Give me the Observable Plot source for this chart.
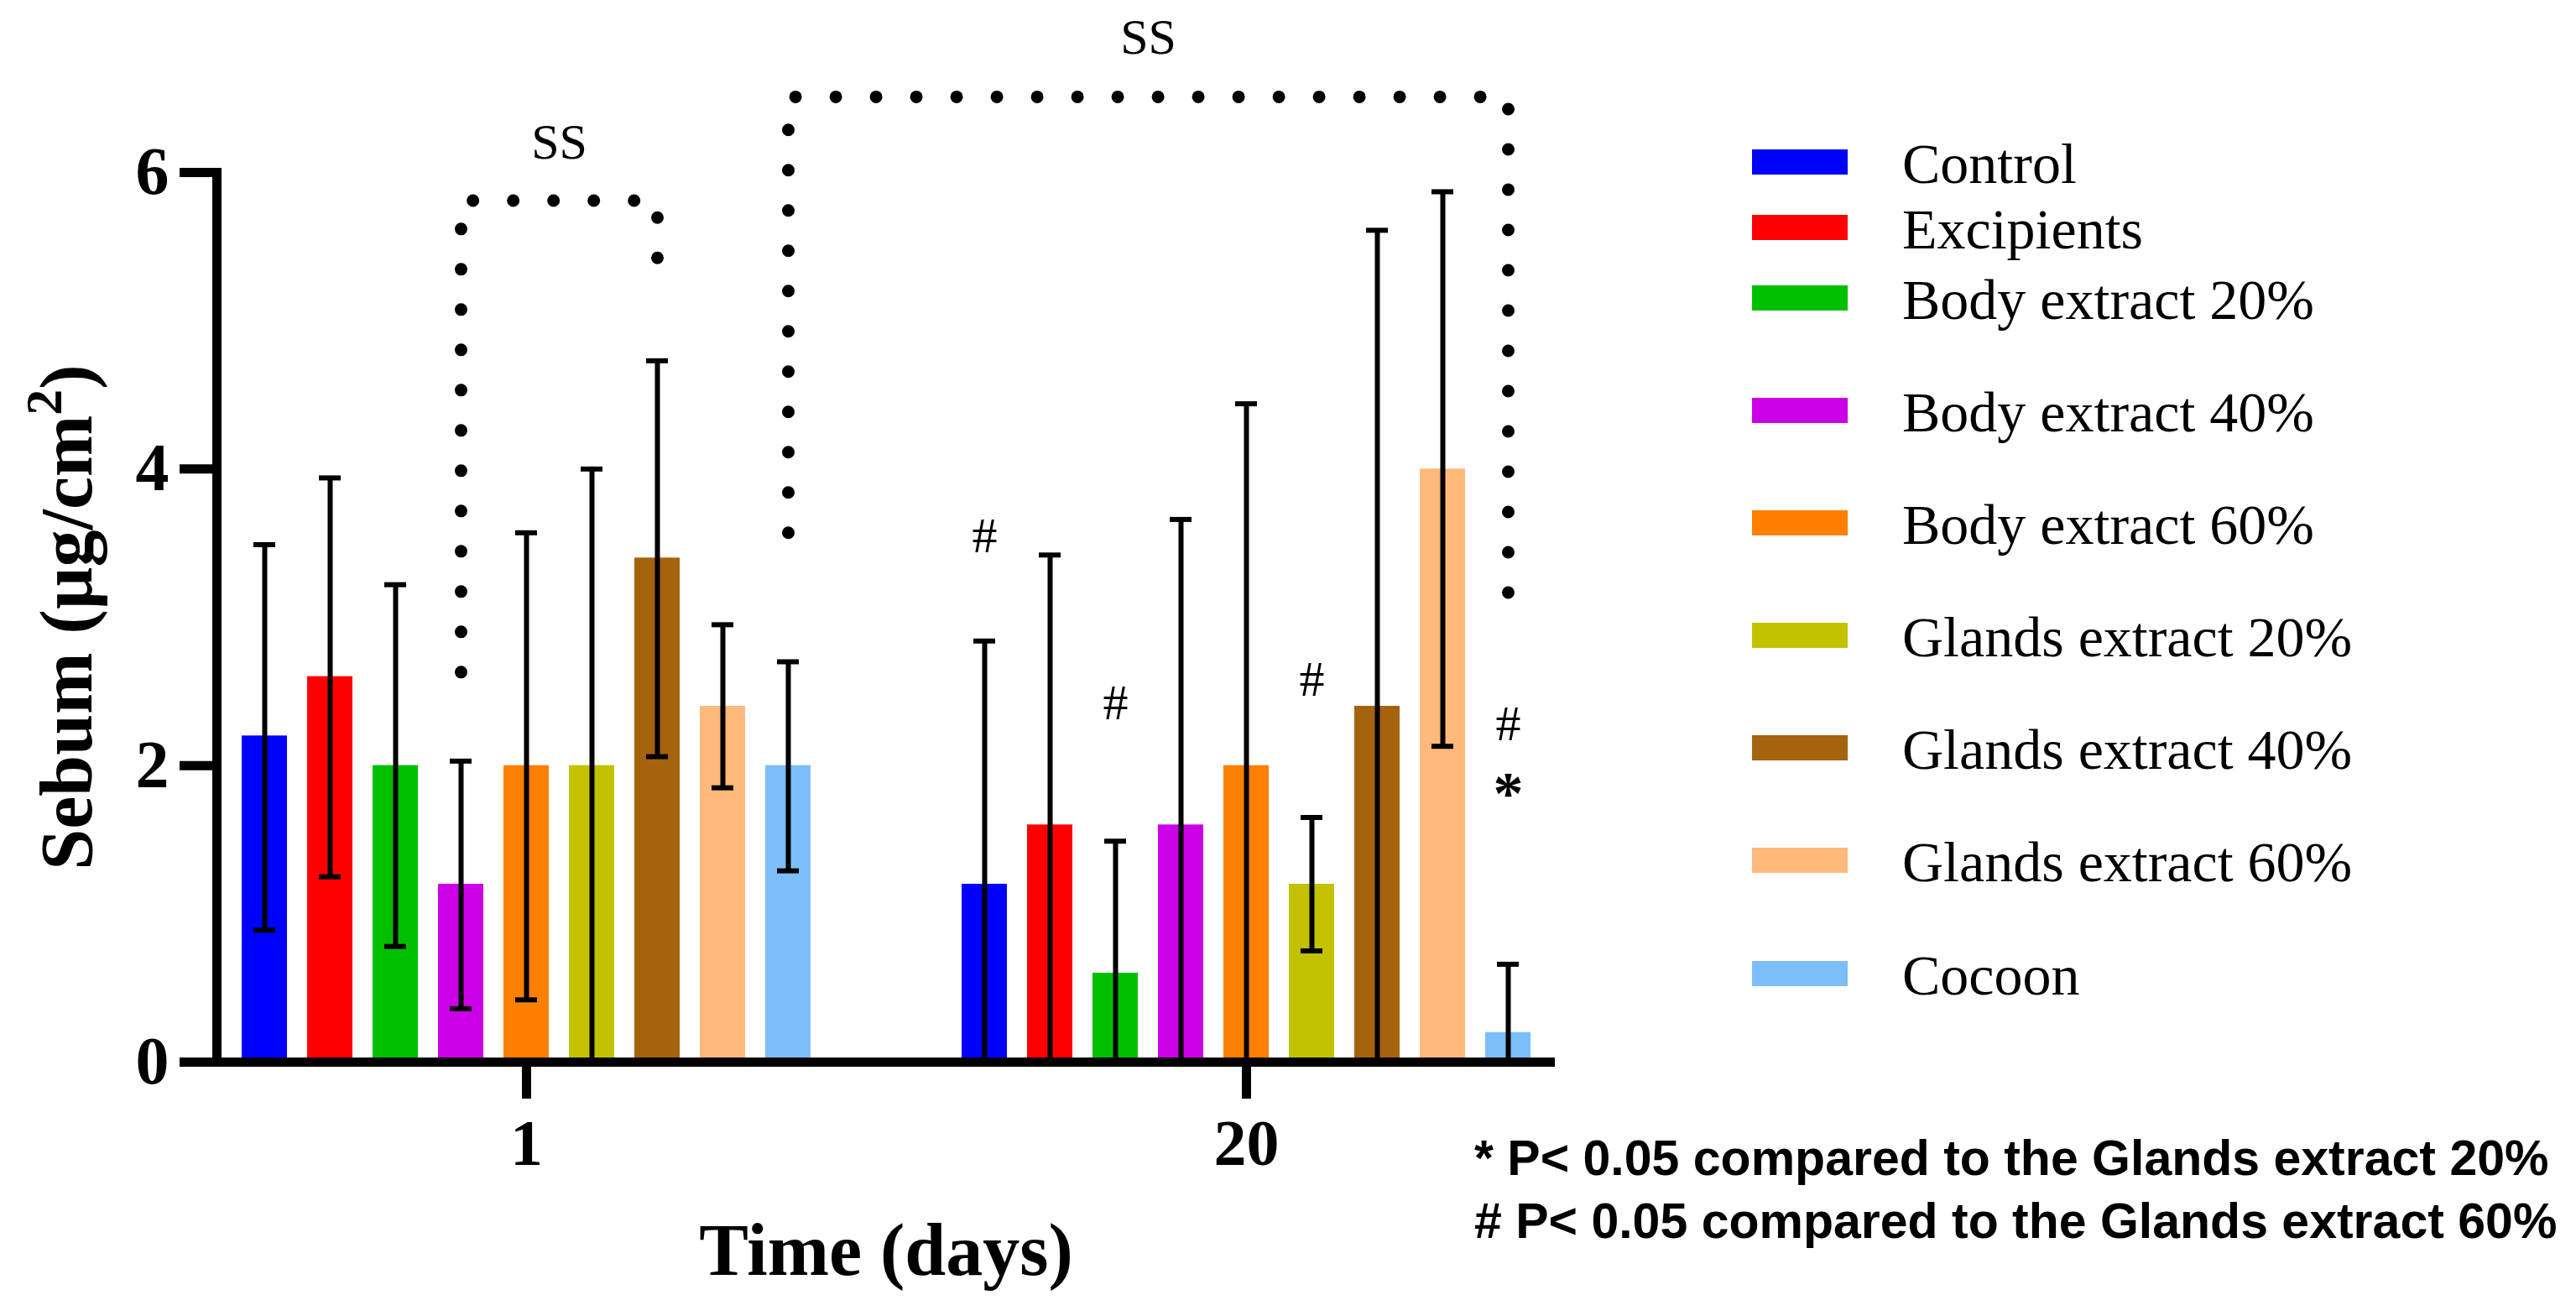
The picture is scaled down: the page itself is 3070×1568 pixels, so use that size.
<!DOCTYPE html>
<html>
<head>
<meta charset="utf-8">
<script src="https://cdn.jsdelivr.net/npm/d3@7"></script>
<script src="https://cdn.jsdelivr.net/npm/@observablehq/plot@0.6"></script>
<style>
  html, body { margin: 0; padding: 0; background: #fff; }
  #wrap { position: relative; width: 3070px; height: 1568px; overflow: hidden; background: #fff; }
  #wrap > svg { position: absolute; left: 0; top: 0; }
  .sw { position: absolute; width: 114px; height: 30px; }
  .lab { position: absolute; font-family: "Liberation Serif", "Times New Roman", serif; font-size: 68px; line-height: 68px; white-space: nowrap; color: #000; }
  #notes { position: absolute; left: 1757px; top: 1343px; font-family: "Liberation Sans", Arial, sans-serif; font-weight: bold; font-size: 59px; line-height: 75px; white-space: nowrap; color: #000; }
</style>
</head>
<body>
<div id="wrap"></div>
<script>
// ---------- data ----------
const times = ["1", "20"];
const series = ["Control", "Excipients", "Body extract 20%", "Body extract 40%", "Body extract 60%",
                "Glands extract 20%", "Glands extract 40%", "Glands extract 60%", "Cocoon"];
const seriesColors = ["#0000FF", "#FF0000", "#00C000", "#CC00E6", "#FF8000",
                      "#C2C200", "#A5620F", "#FFB97A", "#7BBFFA"];
// day 1
const mean1 = [2.2, 2.6, 2.0, 1.2, 2.0, 2.0, 3.4, 2.4, 2.0];
const low1  = [0.89, 1.25, 0.78, 0.36, 0.42, 0.0, 2.06, 1.85, 1.29];
const high1 = [3.49, 3.94, 3.22, 2.03, 3.57, 4.0, 4.73, 2.95, 2.70];
// day 20
const mean20 = [1.2, 1.6, 0.6, 1.6, 2.0, 1.2, 2.4, 4.0, 0.2];
const low20  = [0, 0, 0, 0, 0, 0.75, 0, 2.13, 0];
const high20 = [2.84, 3.42, 1.49, 3.66, 4.44, 1.65, 5.61, 5.87, 0.66];
const yTicks = [0, 2, 4, 6];
const yTitle = "Sebum (µg/cm²)";
const xTitle = "Time (days)";
// significance marks
const hashMarks = [
  {time: "20", series: "Control", value: 3.55},
  {time: "20", series: "Body extract 20%", value: 2.42},
  {time: "20", series: "Glands extract 20%", value: 2.58},
  {time: "20", series: "Cocoon", value: 2.28}
];
const starMarks = [{time: "20", series: "Cocoon", value: 1.81}];
const brackets = [
  {label: "SS", labelAt: ["1", "Body extract 60%"], labelValue: 6.20,
   points: [["1", "Body extract 40%", 2.63], ["1", "Body extract 40%", 5.81],
            ["1", "Glands extract 40%", 5.81], ["1", "Glands extract 40%", 5.18]]},
  {label: "SS", labelAt: ["20", "Body extract 20%"], labelValue: 6.91,
   points: [["1", "Cocoon", 3.57], ["1", "Cocoon", 6.51],
            ["20", "Cocoon", 6.51], ["20", "Cocoon", 3.05]]}
];
const footnotes = ["* P< 0.05 compared to the Glands extract 20%",
                   "# P< 0.05 compared to the Glands extract 60%"];

// ---------- layout ----------
const W = 3070, H = 1568;
const mL = 258, mR = 1217, mT = 205, mB = 303;
const pInner = 0.308, pOuter = 0.37;
const legendCenters = [193, 271, 355, 489, 623, 757, 891, 1025, 1160];

const key = (t, s) => t + "|" + s;
const xDomain = [...series.map(s => key(times[0], s)), "gap-a", "gap-b", ...series.map(s => key(times[1], s))];
const step = (W - mL - mR) / (xDomain.length - pInner + 2 * pOuter);

const rows = [];
series.forEach((s, i) => rows.push({key: key("1", s), series: s, mean: mean1[i], low: low1[i], high: high1[i]}));
series.forEach((s, i) => rows.push({key: key("20", s), series: s, mean: mean20[i], low: low20[i], high: high20[i]}));

const serif = "Liberation Serif, Times New Roman, serif";

const marks = [
  Plot.barY(rows, {x: "key", y: "mean", fill: "series"}),
  Plot.ruleX(rows, {x: "key", y1: "low", y2: "high", stroke: "#000", strokeWidth: 6}),
  Plot.tickY(rows, {x: "key", y: "high", stroke: "#000", strokeWidth: 6, insetLeft: 14, insetRight: 14}),
  Plot.tickY(rows.filter(d => d.low > 0), {x: "key", y: "low", stroke: "#000", strokeWidth: 6, insetLeft: 14, insetRight: 14})
];
for (const b of brackets) {
  marks.push(Plot.line(b.points, {x: p => key(p[0], p[1]), y: p => p[2], stroke: "#000", strokeWidth: 15,
    strokeDasharray: "0 48", strokeLinecap: "round", strokeLinejoin: "round"}));
  marks.push(Plot.text([b], {x: d => key(d.labelAt[0], d.labelAt[1]), y: "labelValue", text: "label",
    dx: step / 2, fontSize: 60, fontFamily: serif, lineAnchor: "middle", letterSpacing: "4px"}));
}
marks.push(
  Plot.text(hashMarks, {x: d => key(d.time, d.series), y: "value", text: () => "#", fontSize: 60, fontFamily: serif, lineAnchor: "middle"}),
  Plot.text(starMarks, {x: d => key(d.time, d.series), y: "value", text: () => "*", fontSize: 72, fontWeight: "bold", fontFamily: serif, lineAnchor: "middle"}),
  Plot.ruleY([0], {stroke: "#000", strokeWidth: 11}),
  Plot.frame({anchor: "left", stroke: "#000", strokeWidth: 11}),
  Plot.axisY({ticks: yTicks, tickFormat: d => String(d), tickSize: 44, tickPadding: 13, stroke: "#000", strokeWidth: 11,
    fontSize: 80, fontWeight: "bold", fontFamily: serif, label: null}),
  Plot.axisX({ticks: [key("1", "Body extract 60%"), key("20", "Body extract 60%")],
    tickFormat: d => d.split("|")[0], tickSize: 44, tickPadding: 23, stroke: "#000", strokeWidth: 11,
    fontSize: 78, fontWeight: "bold", fontFamily: serif, label: null}),
  Plot.text([xTitle], {frameAnchor: "bottom", lineAnchor: "bottom", textAnchor: "middle", dy: 253, fontSize: 88, fontWeight: "bold", fontFamily: serif}),
  Plot.text([yTitle], {frameAnchor: "left", lineAnchor: "bottom", textAnchor: "middle", rotate: -90, dx: -150, fontSize: 88, fontWeight: "bold", fontFamily: serif})
);

const chart = Plot.plot({
  width: W, height: H,
  marginLeft: mL, marginRight: mR, marginTop: mT, marginBottom: mB,
  style: {background: "white", fontFamily: serif, color: "#000", overflow: "visible"},
  x: {type: "band", domain: xDomain, paddingInner: pInner, paddingOuter: pOuter},
  y: {domain: [0, 6]},
  color: {type: "ordinal", domain: series, range: seriesColors},
  marks
});

const wrap = document.getElementById("wrap");
wrap.appendChild(chart);

// superscript in y title
chart.querySelectorAll("text").forEach(t => {
  if (t.textContent === yTitle) {
    const ns = "http://www.w3.org/2000/svg";
    t.textContent = "";
    const a = document.createElementNS(ns, "tspan"); a.textContent = "Sebum (µg/cm";
    const b = document.createElementNS(ns, "tspan"); b.textContent = "2";
    b.setAttribute("dy", "-36"); b.setAttribute("font-size", "62");
    const c = document.createElementNS(ns, "tspan"); c.textContent = ")"; c.setAttribute("dy", "36");
    t.append(a, b, c);
  }
});

// legend
series.forEach((s, i) => {
  const sw = document.createElement("div");
  sw.className = "sw";
  sw.style.left = "2088px";
  sw.style.top = (legendCenters[i] - 15) + "px";
  sw.style.background = seriesColors[i];
  wrap.appendChild(sw);
  const lb = document.createElement("div");
  lb.className = "lab";
  lb.style.left = "2267px";
  lb.style.top = (legendCenters[i] - 32) + "px";
  lb.textContent = s;
  wrap.appendChild(lb);
});

// footnotes
const notes = document.createElement("div");
notes.id = "notes";
footnotes.forEach(f => { const d = document.createElement("div"); d.textContent = f; notes.appendChild(d); });
wrap.appendChild(notes);
</script>
</body>
</html>
